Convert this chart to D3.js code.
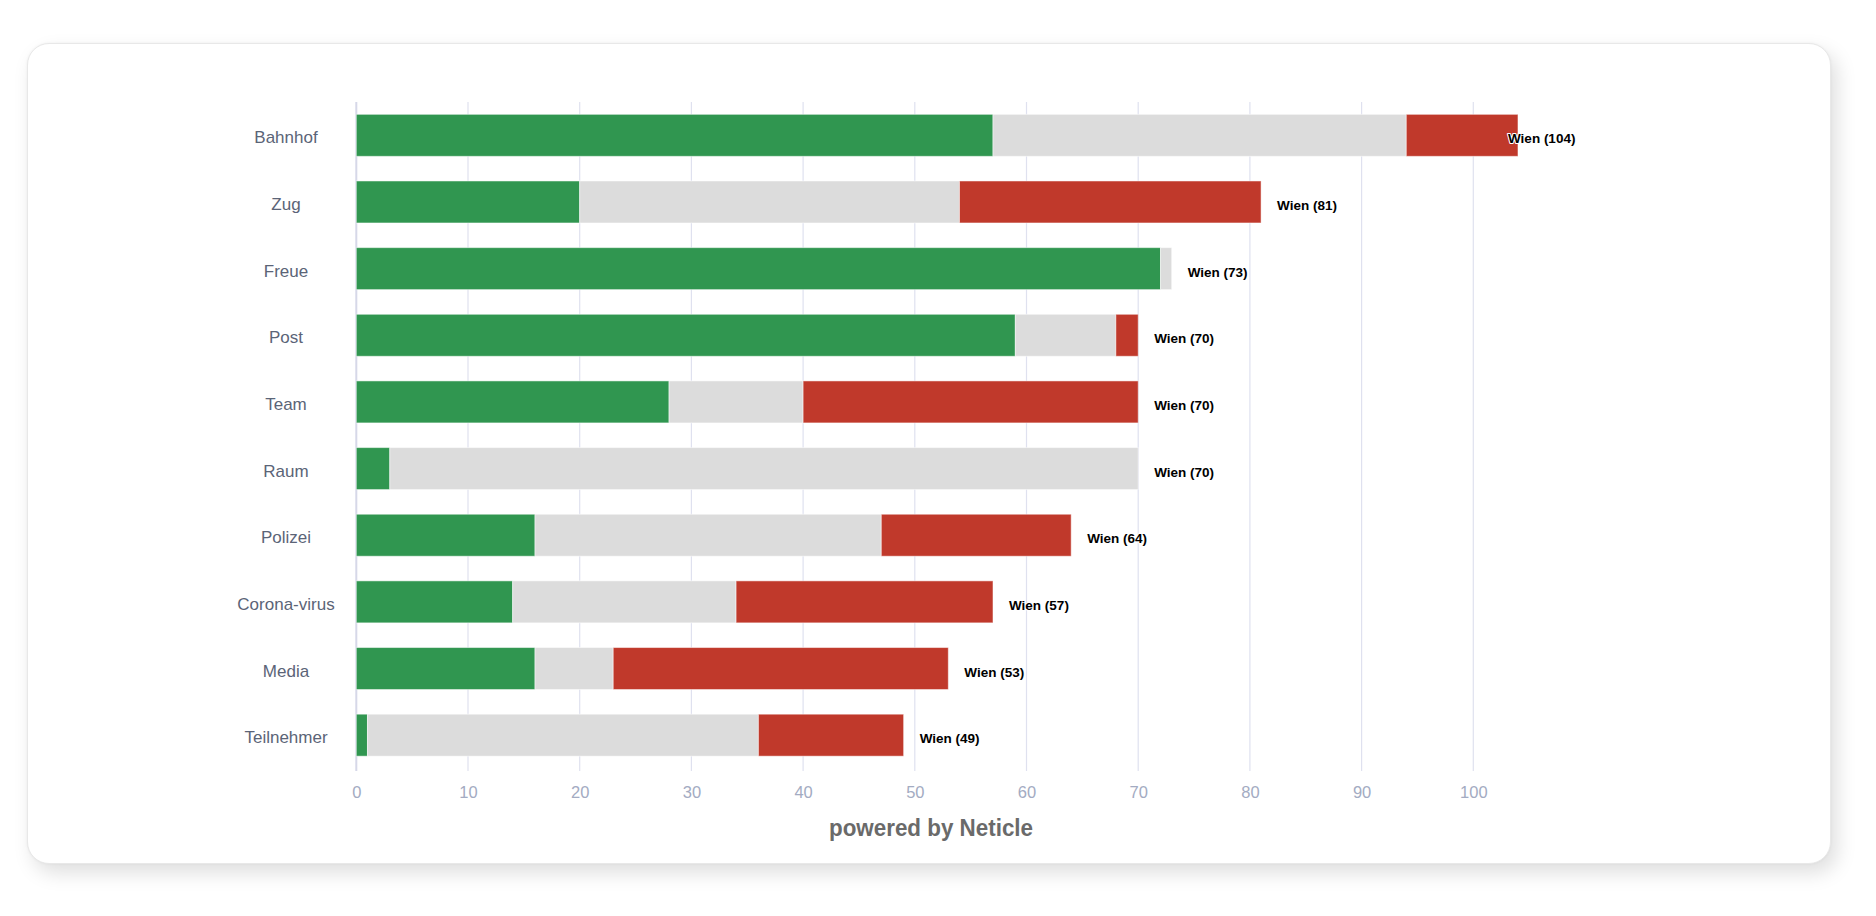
<!DOCTYPE html>
<html>
<head>
<meta charset="utf-8">
<script src="https://cdn.jsdelivr.net/npm/d3@7"></script>
<style>
  html, body { margin: 0; padding: 0; background: #ffffff; }
  body { width: 1876px; height: 916px; position: relative; overflow: hidden; }
  #card {
    position: absolute; left: 27px; top: 43px; width: 1802px; height: 819px;
    background: #fff; border: 1px solid #e8e8e8; border-radius: 22px;
    box-shadow: 6px 9px 20px rgba(0,0,0,0.13), 0 0 3px rgba(0,0,0,0.05);
  }
  svg { position: absolute; left: 0; top: 0; }
  text { font-family: "Liberation Sans", Arial, Helvetica, sans-serif; }
</style>
</head>
<body>
<div id="card"></div>
<svg id="chart" width="1876" height="916"></svg>
<script>
// ---- data ----
const categories = ["Bahnhof", "Zug", "Freue", "Post", "Team", "Raum", "Polizei", "Corona-virus", "Media", "Teilnehmer"];
const positive = [57, 20, 72, 59, 28, 3, 16, 14, 16, 1];
const neutral  = [37, 34, 1, 9, 12, 67, 31, 20, 7, 35];
const negative = [10, 27, 0, 2, 30, 0, 17, 23, 30, 13];
const labelPrefix = "Wien";
const xTicks = [0, 10, 20, 30, 40, 50, 60, 70, 80, 90, 100];
const footer = "powered by Neticle";

// ---- layout ----
const plotLeft = 356.3, plotRight100 = 1473.3;
const plotTop = 102, plotBottom = 768.5, gridBottom = 771;
const labelMaxX = 1508;

const colors = { positive: "#309650", neutral: "#dcdcdc", negative: "#c0392b" };

const svg = d3.select("#chart");

const x = d3.scaleLinear().domain([0, 100]).range([plotLeft, plotRight100]);
const y = d3.scaleBand().domain(categories).range([plotTop, plotBottom])
  .paddingInner(0.37).paddingOuter(0.185);

const rows = categories.map((c, i) => ({
  cat: c, positive: positive[i], neutral: neutral[i], negative: negative[i],
  total: positive[i] + neutral[i] + negative[i]
}));

// grid lines
svg.append("g").selectAll("line").data(xTicks).join("line")
  .attr("x1", d => x(d)).attr("x2", d => x(d))
  .attr("y1", plotTop).attr("y2", gridBottom)
  .attr("stroke", d => d === 0 ? "#d6d8e8" : "#dfe1ef")
  .attr("stroke-width", d => d === 0 ? 2 : 1.2);

// tick labels
const xAxis = d3.axisBottom(x).tickValues(xTicks).tickSize(0).tickPadding(0);
const ax = svg.append("g").attr("transform", `translate(0, ${gridBottom})`).call(xAxis);
ax.select(".domain").remove();
ax.selectAll("text")
  .attr("dy", null).attr("y", 27)
  .attr("fill", "#a3abc2").attr("font-size", 16.5)
  .attr("font-family", "'Liberation Sans', Arial, sans-serif");

// category labels
svg.append("g").selectAll("text").data(categories).join("text")
  .attr("x", 286).attr("y", d => y(d) + y.bandwidth() / 2 + 8)
  .attr("text-anchor", "middle")
  .attr("fill", "#5b6477").attr("font-size", 17)
  .text(d => d);

// stacked bars
const keys = ["positive", "neutral", "negative"];
const stacked = d3.stack().keys(keys)(rows);
svg.append("g").selectAll("g").data(stacked).join("g")
  .attr("fill", s => colors[s.key])
  .selectAll("rect").data(s => s).join("rect")
  .attr("x", d => x(d[0]))
  .attr("y", d => y(d.data.cat))
  .attr("width", d => Math.max(0, x(d[1]) - x(d[0])))
  .attr("height", y.bandwidth())
  .attr("stroke", "#ffffff").attr("stroke-opacity", 0.5).attr("stroke-width", 1);

// value labels
svg.append("g").selectAll("text").data(rows).join("text")
  .attr("x", d => Math.min(x(d.total) + 16, labelMaxX))
  .attr("y", d => y(d.cat) + y.bandwidth() / 2 + 8)
  .attr("font-size", 13.5).attr("font-weight", "bold")
  .attr("fill", "#000")
  .attr("stroke", "#fff").attr("stroke-width", 2).attr("paint-order", "stroke")
  .attr("stroke-linejoin", "round")
  .text(d => `${labelPrefix} (${d.total})`);

// footer
svg.append("text")
  .attr("x", 829).attr("y", 836)
  .attr("font-size", 23).attr("font-weight", "bold")
  .attr("fill", "#6a6a6a")
  .attr("textLength", 204).attr("lengthAdjust", "spacingAndGlyphs")
  .text(footer);
</script>
</body>
</html>
